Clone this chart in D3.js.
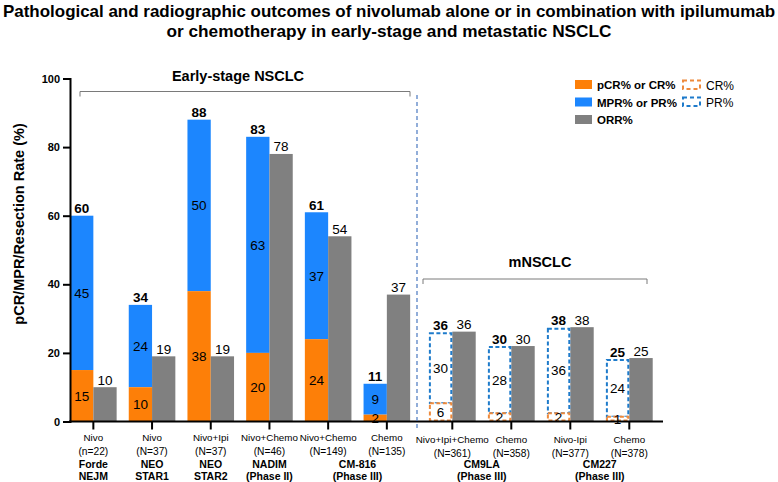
<!DOCTYPE html>
<html><head><meta charset="utf-8">
<script src="https://cdn.jsdelivr.net/npm/d3@7"></script>
<style>
body{margin:0;background:#fff;}
text{font-family:"Liberation Sans",Arial,sans-serif;}
</style></head>
<body><div id="chart"></div>
<script>
// ---------- data ----------
const titleLines = ["Pathological and radiographic outcomes of nivolumab alone or in combination with ipilumumab",
                    "or chemotherapy in early-stage and metastatic NSCLC"];
const yTicks = [0, 20, 40, 60, 80, 100];
// Early-stage NSCLC
const earlyArms = ["Nivo", "Nivo", "Nivo+Ipi", "Nivo+Chemo", "Nivo+Chemo", "Chemo"];
const earlyN = ["(n=22)", "(N=37)", "(N=37)", "(N=46)", "(N=149)", "(N=135)"];
const earlyPCR = [15, 10, 38, 20, 24, 2];
const earlyMPRTotal = [60, 34, 88, 83, 61, 11];
const earlyMPRSeg = [45, 24, 50, 63, 37, 9];
const earlyORR = [10, 19, 19, 78, 54, 37];
const earlyTrials = [
  {lines: ["Forde", "NEJM"], arms: [0]},
  {lines: ["NEO", "STAR1"], arms: [1]},
  {lines: ["NEO", "STAR2"], arms: [2]},
  {lines: ["NADIM", "(Phase II)"], arms: [3]},
  {lines: ["CM-816", "(Phase III)"], arms: [4, 5]}
];
// Metastatic NSCLC (labels, and heights as drawn in the source figure)
const mArms = ["Nivo+Ipi+Chemo", "Chemo", "Nivo-Ipi", "Chemo"];
const mN = ["(N=361)", "(N=358)", "(N=377)", "(N=378)"];
const mCR = [6, 2, 2, 1];
const mPR = [30, 28, 36, 24];
const mTotal = [36, 30, 38, 25];
const mORR = [36, 30, 38, 25];
const mCRDrawn = [5.3, 2.4, 2.4, 1.4];
const mTotalDrawn = [26, 22, 27.3, 18.2];
const mORRDrawn = [26.2, 22, 27.5, 18.5];
const mTrials = [
  {lines: ["CM9LA", "(Phase III)"], arms: [0, 1]},
  {lines: ["CM227", "(Phase III)"], arms: [2, 3]}
];
const legendSolid = ["pCR% or CR%", "MPR% or PR%", "ORR%"];
const legendDashed = ["CR%", "PR%"];

// ---------- styles ----------
const C = {orange: "#FD7F08", blue: "#1C86FE", gray: "#808080",
           dOrange: "#EE8A3C", dBlue: "#1E7BCB", bracket: "#7a7a7a", divider: "#4A78C0"};

const W = 778, H = 482;
const svg = d3.select("#chart").append("svg").attr("width", W).attr("height", H);
svg.append("rect").attr("width", W).attr("height", H).attr("fill", "#fff");

const y = d3.scaleLinear().domain([0, 100]).range([421.5, 78.5]);
const xE = d3.scaleBand().domain(d3.range(earlyArms.length)).range([64, 416.2]);
const xM = d3.scaleBand().domain(d3.range(mArms.length)).range([422.8, 658.8]);
const subE = d3.scaleBand().domain(["L", "R"]).range([0, xE.bandwidth()]).paddingOuter(0.26);
const subM = d3.scaleBand().domain(["L", "R"]).range([0, xM.bandwidth()]).paddingOuter(0.26);

// title
svg.append("g").selectAll("text").data(titleLines).join("text")
  .attr("x", W / 2).attr("y", (d, i) => 17 + i * 20)
  .attr("text-anchor", "middle")
  .attr("textLength", (d, i) => i === 0 ? 772 : 445)
  .attr("lengthAdjust", "spacingAndGlyphs")
  .style("font-weight", "bold").style("font-size", "17px")
  .text(d => d);

// ---------- early bars ----------
const gE = svg.append("g");
earlyArms.forEach((a, i) => {
  const xl = xE(i) + subE("L"), xr = xE(i) + subE("R"), bw = subE.bandwidth();
  gE.append("rect").attr("x", xl).attr("width", bw)
    .attr("y", y(earlyMPRTotal[i])).attr("height", y(earlyPCR[i]) - y(earlyMPRTotal[i])).attr("fill", C.blue);
  gE.append("rect").attr("x", xl).attr("width", bw)
    .attr("y", y(earlyPCR[i])).attr("height", y(0) - y(earlyPCR[i])).attr("fill", C.orange);
  gE.append("rect").attr("x", xr).attr("width", bw)
    .attr("y", y(earlyORR[i])).attr("height", y(0) - y(earlyORR[i])).attr("fill", C.gray);
  gE.append("text").attr("x", xl + bw / 2).attr("y", y(earlyMPRTotal[i]) - 2.5)
    .attr("text-anchor", "middle").style("font-weight", "bold").style("font-size", "13.5px").text(earlyMPRTotal[i]);
  gE.append("text").attr("x", xl + bw / 2).attr("y", y((earlyPCR[i] + earlyMPRTotal[i]) / 2))
    .attr("dy", "0.36em").attr("text-anchor", "middle").style("font-size", "13.5px").text(earlyMPRSeg[i]);
  gE.append("text").attr("x", xl + bw / 2).attr("y", y(earlyPCR[i] / 2))
    .attr("dy", "0.36em").attr("text-anchor", "middle").style("font-size", "13.5px").text(earlyPCR[i]);
  gE.append("text").attr("x", xr + bw / 2).attr("y", y(earlyORR[i]) - 2.5)
    .attr("text-anchor", "middle").style("font-size", "13.5px").text(earlyORR[i]);
});

// ---------- metastatic bars ----------
const gM = svg.append("g");
mArms.forEach((a, i) => {
  const xl = xM(i) + subM("L"), xr = xM(i) + subM("R"), bw = subM.bandwidth();
  gM.append("rect").attr("x", xr).attr("width", bw)
    .attr("y", y(mORRDrawn[i])).attr("height", y(0) - y(mORRDrawn[i])).attr("fill", C.gray);
  gM.append("rect").attr("x", xl + 1).attr("width", bw - 2)
    .attr("y", y(mTotalDrawn[i]) + 1).attr("height", y(mCRDrawn[i]) - y(mTotalDrawn[i]) - 1)
    .attr("fill", "#fff").attr("stroke", C.dBlue).attr("stroke-width", 2).attr("stroke-dasharray", "4,2.5");
  gM.append("rect").attr("x", xl + 1).attr("width", bw - 2)
    .attr("y", y(mCRDrawn[i])).attr("height", y(0) - y(mCRDrawn[i]) - 1)
    .attr("fill", "#fff").attr("stroke", C.dOrange).attr("stroke-width", 2).attr("stroke-dasharray", "4,2.5");
  gM.append("text").attr("x", xl + bw / 2).attr("y", y(mTotalDrawn[i]) - 2.5)
    .attr("text-anchor", "middle").style("font-weight", "bold").style("font-size", "13.5px").text(mTotal[i]);
  gM.append("text").attr("x", xl + bw / 2).attr("y", y((mCRDrawn[i] + mTotalDrawn[i]) / 2))
    .attr("dy", "0.36em").attr("text-anchor", "middle").style("font-size", "13.5px").text(mPR[i]);
  gM.append("text").attr("x", xl + bw / 2).attr("y", y(mCRDrawn[i] / 2))
    .attr("dy", "0.36em").attr("text-anchor", "middle").style("font-size", "13.5px").text(mCR[i]);
  gM.append("text").attr("x", xr + bw / 2).attr("y", y(mORRDrawn[i]) - 2.5)
    .attr("text-anchor", "middle").style("font-size", "13.5px").text(mORR[i]);
});

// ---------- axes ----------
const yAxis = svg.append("g").attr("transform", "translate(70,0)")
  .call(d3.axisLeft(y).tickValues(yTicks).tickSize(7).tickPadding(3));
yAxis.select(".domain").attr("stroke", "#000").attr("stroke-width", 2);
yAxis.selectAll(".tick line").attr("stroke", "#000").attr("stroke-width", 2);
yAxis.selectAll(".tick text").style("font-weight", "bold").style("font-size", "11px")
  .style("font-family", "'Liberation Sans',Arial,sans-serif").attr("fill", "#000");

function bottomAxis(scale) {
  const g = svg.append("g").attr("transform", `translate(0,${y(0)})`)
    .call(d3.axisBottom(scale).tickSize(8).tickFormat(""));
  g.select(".domain").remove();
  g.selectAll(".tick line").attr("stroke", "#000").attr("stroke-width", 2);
  return g;
}
bottomAxis(xE); bottomAxis(xM);
svg.append("line").attr("x1", 69).attr("x2", 663).attr("y1", y(0)).attr("y2", y(0))
  .attr("stroke", "#000").attr("stroke-width", 2);

// divider
svg.append("line").attr("x1", 417).attr("x2", 417).attr("y1", 95).attr("y2", 428)
  .attr("stroke", C.divider).attr("stroke-width", 1.2).attr("stroke-dasharray", "4,3");

// y label
svg.append("text").attr("transform", "translate(24,224) rotate(-90)")
  .attr("text-anchor", "middle").style("font-weight", "bold").style("font-size", "14.5px")
  .text("pCR/MPR/Resection Rate (%)");

// x labels
function armLabels(scale, arms, ns, y1) {
  arms.forEach((a, i) => {
    const cx = scale(i) + scale.bandwidth() / 2;
    svg.append("text").attr("x", cx).attr("y", y1).attr("text-anchor", "middle")
      .style("font-size", "9.8px").text(a);
    svg.append("text").attr("x", cx).attr("y", y1 + 14).attr("text-anchor", "middle")
      .style("font-size", "10.2px").text(ns[i]);
  });
}
function trialLabels(scale, trials) {
  trials.forEach(t => {
    const cx = d3.mean(t.arms, i => scale(i) + scale.bandwidth() / 2);
    t.lines.forEach((l, k) => {
      svg.append("text").attr("x", cx).attr("y", 467.5 + k * 12).attr("text-anchor", "middle")
        .style("font-size", "10.5px").style("font-weight", "bold").text(l);
    });
  });
}
armLabels(xE, earlyArms, earlyN, 441);
armLabels(xM, mArms, mN, 442.5);
trialLabels(xE, earlyTrials);
trialLabels(xM, mTrials);

// brackets
function bracket(x1, x2, yy, label, ly, lx) {
  svg.append("path").attr("d", `M${x1},${yy + 5}V${yy}H${x2}V${yy + 5}`)
    .attr("fill", "none").attr("stroke", C.bracket).attr("stroke-width", 1);
  svg.append("text").attr("x", lx).attr("y", ly).attr("text-anchor", "middle")
    .style("font-weight", "bold").style("font-size", "14.5px").text(label);
}
bracket(80, 410, 91.5, "Early-stage NSCLC", 81, 238);
bracket(423, 647, 279, "mNSCLC", 266.5, 540);

// legend
const leg = svg.append("g");
const solidCols = [C.orange, C.blue, C.gray];
legendSolid.forEach((l, i) => {
  leg.append("rect").attr("x", 575).attr("y", 80 + i * 17.5).attr("width", 17).attr("height", 9)
    .attr("fill", solidCols[i]);
  leg.append("text").attr("x", 597).attr("y", 89 + i * 17.5)
    .style("font-weight", "bold").style("font-size", "11.5px").text(l);
});
const dashCols = [C.dOrange, C.dBlue];
legendDashed.forEach((l, i) => {
  leg.append("rect").attr("x", 683).attr("y", 80.5 + i * 17).attr("width", 17).attr("height", 8.5)
    .attr("fill", "none").attr("stroke", dashCols[i]).attr("stroke-width", 2).attr("stroke-dasharray", "4,3");
  leg.append("text").attr("x", 706).attr("y", 89.5 + i * 17)
    .style("font-size", "12px").text(l);
});
</script></body></html>
